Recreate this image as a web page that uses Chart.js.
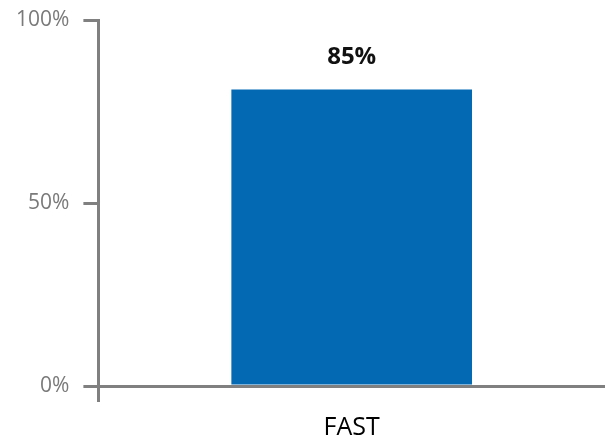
<!DOCTYPE html>
<html>
<head>
<meta charset="utf-8">
<script src="https://cdn.jsdelivr.net/npm/chart.js@4"></script>
<style>
  body { margin: 0; background: #fff; }
  #wrap { width: 605px; height: 438px; }
</style>
</head>
<body>
<div id="wrap"><canvas id="chart"></canvas></div>
<script>
const categories = ["FAST"];
const values = [81];
const valueLabels = ["85%"];
const yTicks = [0, 50, 100];

const axisGray = "#808080";

const barLabels = {
  id: "barLabels",
  afterDatasetsDraw(chart) {
    const ctx = chart.ctx;
    const meta = chart.getDatasetMeta(0);
    ctx.save();
    ctx.font = "bold 24px 'Open Sans'";
    ctx.fillStyle = "#111";
    ctx.textAlign = "center";
    ctx.textBaseline = "middle";
    meta.data.forEach((bar, i) => {
      ctx.fillText(valueLabels[i], bar.x, bar.y - 32);
    });
    ctx.restore();
  },
};

new Chart(document.getElementById("chart"), {
  type: "bar",
  data: {
    labels: categories,
    datasets: [
      {
        data: values,
        backgroundColor: "#0369b3",
        barPercentage: 0.475,
        categoryPercentage: 1,
      },
    ],
  },
  options: {
    responsive: true,
    maintainAspectRatio: false,
    animation: false,
    layout: { padding: { top: 20, right: 0, bottom: 0, left: 2 } },
    plugins: { legend: { display: false }, tooltip: { enabled: false } },
    scales: {
      x: {
        offset: true,
        afterFit: (scale) => {
          scale.height = 52;
        },
        grid: {
          drawOnChartArea: false,
          tickLength: 16,
          lineWidth: 3,
          // only the left boundary tick shows below the axis
          color: (c) => (c.index === 0 ? axisGray : "rgba(0,0,0,0)"),
        },
        border: { display: true, color: axisGray, width: 3 },
        ticks: { color: "#000", font: { family: "'Open Sans'", size: 25 }, padding: 11 },
      },
      y: {
        min: 0,
        max: 100,
        afterBuildTicks: (axis) => {
          axis.ticks = yTicks.map((v) => ({ value: v }));
        },
        grid: { drawOnChartArea: false, tickLength: 15, color: axisGray, lineWidth: 3 },
        border: { display: true, color: axisGray, width: 3 },
        ticks: {
          color: "#7a7a7a",
          font: { family: "'Open Sans'", size: 21, lineHeight: 0.4 },
          padding: 14,
          callback: (v) => v + "%",
        },
      },
    },
  },
  plugins: [barLabels],
});
</script>
</body>
</html>
